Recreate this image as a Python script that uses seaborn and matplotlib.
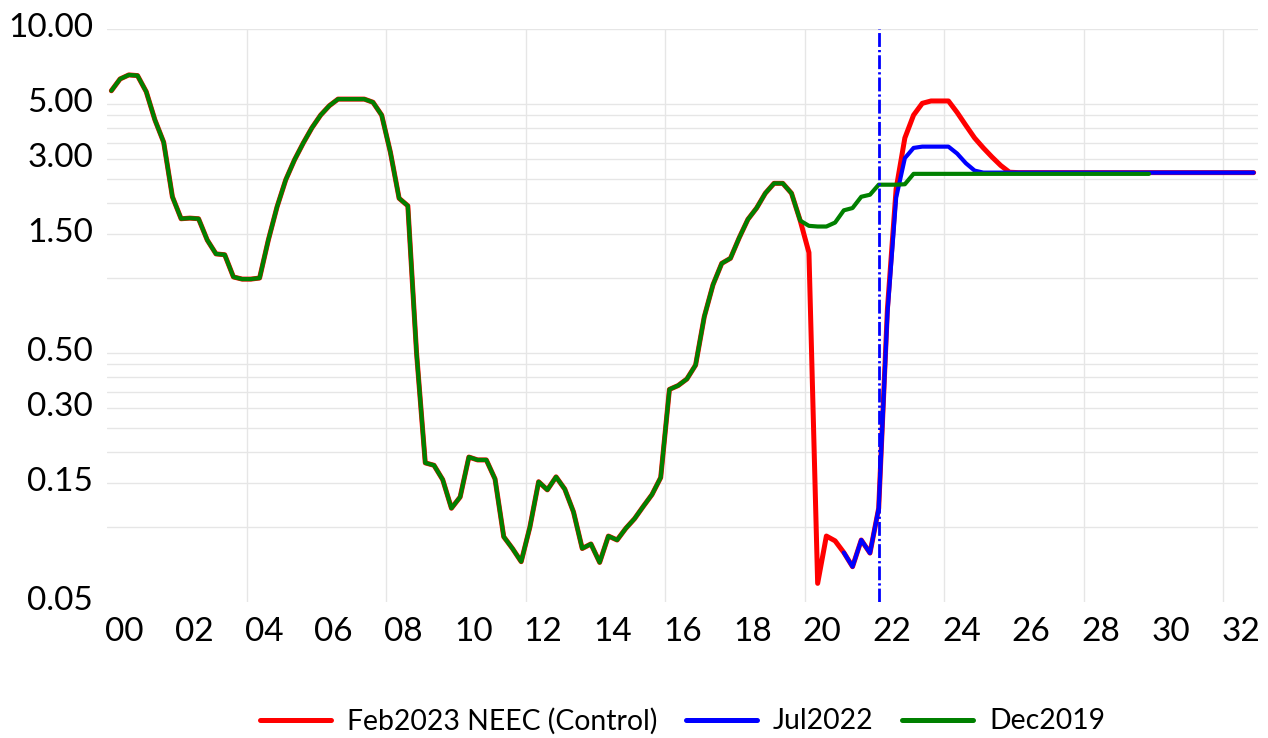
import numpy as np
import pandas as pd
import matplotlib
matplotlib.use("Agg")
import matplotlib.pyplot as plt
import matplotlib.transforms as mtransforms
from matplotlib.ticker import FixedLocator, NullFormatter
import seaborn as sns

# ---------------- data ----------------
quarters = [f"{y}Q{q}" for y in range(2000, 2033) for q in range(1, 5)]

# common history 2000Q1 .. 2019Q4
history = [
    5.65, 6.30, 6.54, 6.50, 5.60, 4.31, 3.51, 2.12, 1.73, 1.74,
    1.73, 1.42, 1.25, 1.24, 1.01, 0.99, 0.99, 1.00, 1.42, 1.93,
    2.48, 2.98, 3.48, 4.01, 4.51, 4.92, 5.23, 5.23, 5.23, 5.23,
    5.08, 4.51, 3.20, 2.09, 1.95, 0.50, 0.181, 0.177, 0.155, 0.119,
    0.132, 0.191, 0.186, 0.186, 0.156, 0.0914, 0.082, 0.0726, 0.100, 0.152,
    0.141, 0.159, 0.142, 0.115, 0.082, 0.0855, 0.0721, 0.092, 0.0887, 0.0988,
    0.108, 0.121, 0.135, 0.158, 0.357, 0.370, 0.393, 0.447, 0.70, 0.94,
    1.145, 1.20, 1.45, 1.72, 1.91, 2.19, 2.40, 2.40, 2.19, 1.70,
]

# Feb2023 NEEC (Control): 2020Q1 .. 2032Q4
feb2023_tail = [
    1.265, 0.0594, 0.092, 0.088, 0.079, 0.0693, 0.0887, 0.0786, 0.119, 0.75,
    2.28, 3.65, 4.51, 5.03, 5.14, 5.14, 5.14, 4.62, 4.10, 3.65,
    3.33, 3.06, 2.83, 2.66, 2.65, 2.65, 2.65, 2.65, 2.65, 2.65,
    2.65, 2.65, 2.65, 2.65, 2.65, 2.65, 2.65, 2.65, 2.65, 2.65,
    2.65, 2.65, 2.65, 2.65, 2.65, 2.65, 2.65, 2.65, 2.65, 2.65,
    2.65, 2.65,
]

# Jul2022: 2021Q1 .. 2032Q4
jul2022_start = "2021Q1"
jul2022_values = [
    0.079, 0.0693, 0.0887, 0.0786, 0.119, 0.72, 2.10, 3.03, 3.33, 3.37,
    3.37, 3.37, 3.37, 3.16, 2.89, 2.70, 2.65, 2.65, 2.65, 2.65,
    2.65, 2.65, 2.65, 2.65, 2.65, 2.65, 2.65, 2.65, 2.65, 2.65,
    2.65, 2.65, 2.65, 2.65, 2.65, 2.65, 2.65, 2.65, 2.65, 2.65,
    2.65, 2.65, 2.65, 2.65, 2.65, 2.65, 2.65, 2.65,
]

# Dec2019: 2020Q1 .. 2029Q4
dec2019_tail = [
    1.62, 1.61, 1.61, 1.67, 1.87, 1.91, 2.12, 2.16, 2.37, 2.37,
    2.37, 2.38, 2.62, 2.62, 2.62, 2.62, 2.62, 2.62, 2.62, 2.62,
    2.62, 2.62, 2.62, 2.62, 2.62, 2.62, 2.62, 2.62, 2.62, 2.62,
    2.62, 2.62, 2.62, 2.62, 2.62, 2.62, 2.62, 2.62, 2.62, 2.62,
]

marker_quarter = "2022Q1"
xtick_labels = [f"{y:02d}" for y in range(0, 33, 2)]
ytick_values = [0.05, 0.15, 0.30, 0.50, 1.50, 3.00, 5.00, 10.00]
ytick_labels = ["0.05", "0.15", "0.30", "0.50", "1.50", "3.00", "5.00", "10.00"]
ygrid_values = [0.10, 0.15, 0.20, 0.25, 0.30, 0.35, 0.40, 0.45, 0.50,
                1.0, 1.5, 2.0, 2.5, 3.0, 3.5, 4.0, 4.5, 5.0, 10.0]

series_names = ["Feb2023 NEEC (Control)", "Jul2022", "Dec2019"]
series_colors = ["#ff0000", "#0000ff", "#008000"]
series_widths = [3.6, 3.0, 3.0]

# ---------------- frames ----------------
qidx = {q: i for i, q in enumerate(quarters)}
feb = history + feb2023_tail
dec = history + dec2019_tail
j0 = qidx[jul2022_start]
frames = [
    pd.DataFrame({"x": np.arange(len(feb)), "value": feb}),
    pd.DataFrame({"x": np.arange(j0, j0 + len(jul2022_values)), "value": jul2022_values}),
    pd.DataFrame({"x": np.arange(len(dec)), "value": dec}),
]

# ---------------- plot ----------------
sns.set_theme(style="white")
plt.rcParams["font.family"] = ["Lato", "DejaVu Sans"]

W, H = 1268, 738
fig = plt.figure(figsize=(W / 100, H / 100), dpi=100)
L, R, T, B = 107, 1258, 29, 602
ax = fig.add_axes([L / W, (H - B) / H, (R - L) / W, (B - T) / H])

for df, name, col, lw in zip(frames, series_names, series_colors, series_widths):
    sns.lineplot(data=df, x="x", y="value", ax=ax, color=col, linewidth=lw,
                 label=name, estimator=None, sort=False,
                 solid_joinstyle="round", solid_capstyle="round")

ax.axvline(qidx[marker_quarter], color="#0000ff", linewidth=2.0,
           linestyle=(0, (5, 1.1, 0.8, 1.1)), zorder=5)

ax.set_yscale("log")
ax.set_ylim(0.05, 10)
ax.set_xlim(-0.5, len(quarters) - 0.5)
ax.xaxis.remove_overlapping_locs = False
ax.yaxis.remove_overlapping_locs = False

# y ticks
ax.yaxis.set_major_locator(FixedLocator(ytick_values))
ax.set_yticklabels(ytick_labels)
ax.yaxis.set_minor_locator(FixedLocator(ygrid_values))
ax.yaxis.set_minor_formatter(NullFormatter())

# x ticks: labels at mid-year, grid at every 4th year boundary
xt = [qidx[f"{2000 + int(s)}Q1"] + 1.5 for s in xtick_labels]
ax.xaxis.set_major_locator(FixedLocator(xt))
ax.set_xticklabels(xtick_labels)
xg = [qidx[f"{y}Q1"] - 0.5 for y in range(2004, 2033, 4)]
ax.xaxis.set_minor_locator(FixedLocator(xg))
ax.xaxis.set_minor_formatter(NullFormatter())

ax.grid(False, which="major")
ax.grid(True, which="minor", color="#e6e6e6", linewidth=1.0)
ax.set_axisbelow(True)
ax.tick_params(which="both", length=0)
ax.tick_params(axis="y", labelsize=24, pad=10, labelcolor="black")
ax.tick_params(axis="x", labelsize=24, pad=11, labelcolor="black")
for s in ax.spines.values():
    s.set_visible(False)
ax.set_xlabel("")
ax.set_ylabel("")

off = mtransforms.ScaledTranslation(0, 4.0 / 100, fig.dpi_scale_trans)
for lab in ax.get_yticklabels():
    lab.set_transform(lab.get_transform() + off)

ax.get_legend().remove()
handles, labels = ax.get_legend_handles_labels()
leg = fig.legend(handles, labels, loc="center",
                 bbox_to_anchor=((L + R) / 2 / W, 17 / H), ncol=3, frameon=False,
                 fontsize=20.4, handlelength=2.5, handletextpad=0.58, columnspacing=1.0,
                 labelcolor="black")
for h in leg.get_lines():
    h.set_linewidth(3.6)

fig.savefig("out.png", dpi=100, facecolor="white")
